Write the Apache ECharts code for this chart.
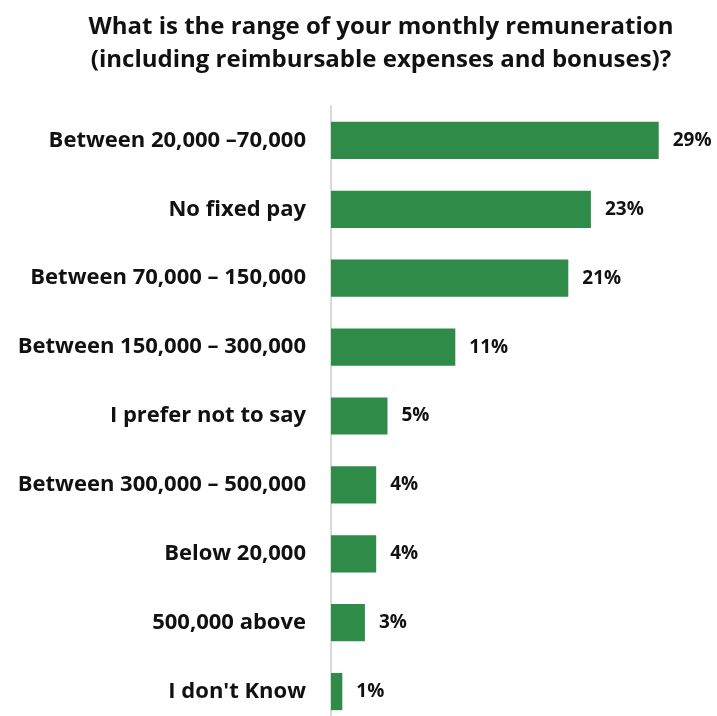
<!DOCTYPE html>
<html>
<head>
<meta charset="utf-8">
<script src="https://cdn.jsdelivr.net/npm/echarts@6/dist/echarts.min.js"></script>
<style>
  html, body { margin: 0; padding: 0; background: #ffffff; overflow: hidden; }
  /* the plot runs past the bottom edge of the window, so the canvas is a little taller */
  #chart { width: 717px; height: 726px; }
</style>
</head>
<body>
<div id="chart"></div>
<script>
// Survey answers, top to bottom
const categories = [
  'Between 20,000 \u201370,000',
  'No fixed pay',
  'Between 70,000 \u2013 150,000',
  'Between 150,000 \u2013 300,000',
  'I prefer not to say',
  'Between 300,000 \u2013 500,000',
  'Below 20,000',
  '500,000 above',
  "I don't Know"
];
// Share of respondents, percent
const shares = [29, 23, 21, 11, 5, 4, 4, 3, 1];

const titleLines = [
  'What is the range of your monthly remuneration',
  '(including reimbursable expenses and bonuses)?'
];

const FONT = '"Open Sans", Lato, sans-serif';

const chart = echarts.init(document.getElementById('chart'), null, { renderer: 'canvas' });
chart.setOption({
  backgroundColor: '#ffffff',
  animation: false,
  title: {
    text: titleLines.join('\n'),
    left: 376,
    textAlign: 'center',
    top: 6,
    textStyle: {
      fontFamily: FONT,
      fontWeight: 'bold',
      fontSize: 24,
      lineHeight: 33,
      color: '#111111'
    }
  },
  grid: {
    left: 331,
    top: 106,
    right: 47,
    bottom: 0,
    containLabel: false
  },
  xAxis: {
    type: 'value',
    min: 0,
    max: 30,
    show: false
  },
  yAxis: {
    type: 'category',
    data: categories,
    inverse: true,
    axisLine: { show: true, lineStyle: { color: '#d9d9d9', width: 2 } },
    axisTick: { show: false },
    axisLabel: {
      margin: 25,
      fontFamily: FONT,
      fontWeight: 'bold',
      fontSize: 22,
      color: '#111111'
    }
  },
  series: [{
    type: 'bar',
    data: shares,
    barCategoryGap: '46%',
    itemStyle: { color: '#2e8b48' },
    label: {
      show: true,
      position: 'right',
      distance: 14,
      formatter: p => p.value + '%',
      fontFamily: FONT,
      fontWeight: 'bold',
      fontSize: 19,
      color: '#111111'
    }
  }]
});
</script>
</body>
</html>
